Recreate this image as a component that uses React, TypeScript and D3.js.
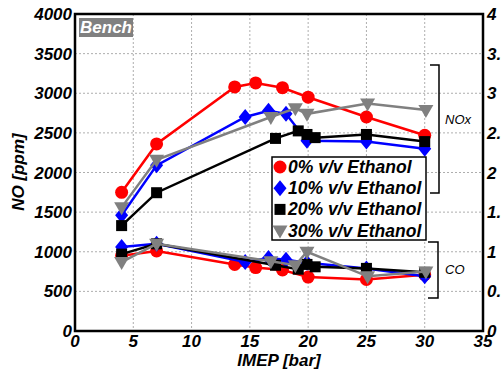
import React from "react";
import * as d3 from "d3";

const xTicks = [0, 5, 10, 15, 20, 25, 30, 35];
const yTicks = [0, 500, 1000, 1500, 2000, 2500, 3000, 3500, 4000];
const yRightTicks = ["0", "0.5", "1", "1.5", "2", "2.5", "3", "3.5", "4"];

const x0 = [4, 7, 13.7, 15.5, 17.8, 20, 25, 30];
const no0 = [1750, 2360, 3080, 3130, 3070, 2950, 2700, 2470];
const co0 = [0.95, 1.01, 0.84, 0.8, 0.77, 0.68, 0.65, 0.71];

const x10 = [4, 7, 14.6, 16.6, 18.1, 19.9, 25, 30];
const no10 = [1460, 2090, 2700, 2780, 2740, 2400, 2390, 2300];
const co10 = [1.06, 1.1, 0.87, 0.92, 0.9, 0.86, 0.79, 0.69];

const x20 = [4, 7, 17.2, 19.15, 19.9, 20.6, 25, 30];
const no20 = [1330, 1745, 2430, 2525, 2480, 2440, 2480, 2390];
const co20 = [0.97, 1.1, 0.83, 0.78, 0.84, 0.81, 0.79, 0.74];

const x30 = [4, 7, 16.8, 18.9, 19.9, 25.1, 30.1];
const no30 = [1560, 2160, 2700, 2810, 2740, 2870, 2790];
const co30 = [0.87, 1.1, 0.88, 0.83, 1.0, 0.69, 0.75];

const seriesNames = ["0% v/v Ethanol", "10% v/v Ethanol", "20% v/v Ethanol", "30% v/v Ethanol"];
const seriesColors = ["#ff0000", "#0000ff", "#000000", "#808080"];
const seriesShapes = ["circle", "diamond", "square", "triangle"];

const W = 501, H = 383;
const L = 75, R = 483, T = 14, B = 331;
const FONT = "'Liberation Sans', Arial, sans-serif";

function Marker({ shape, x, y, color }: { shape: string; x: number; y: number; color: string }) {
  if (shape === "circle") return <circle cx={x} cy={y} r={6.5} fill={color} />;
  if (shape === "square") return <rect x={x - 5.5} y={y - 5.5} width={11} height={11} fill={color} />;
  if (shape === "diamond")
    return <path d={`M${x},${y - 8} L${x + 6.5},${y} L${x},${y + 8} L${x - 6.5},${y} Z`} fill={color} />;
  return <path d={`M${x - 7.5},${y - 5} L${x + 7.5},${y - 5} L${x},${y + 8} Z`} fill={color} />;
}

export default function App() {
  const xs = d3.scaleLinear().domain([0, 35]).range([L, R]);
  const ys = d3.scaleLinear().domain([0, 4000]).range([B, T]);
  const yr = d3.scaleLinear().domain([0, 4]).range([B, T]);

  const series = [
    { x: x0, no: no0, co: co0 },
    { x: x10, no: no10, co: co10 },
    { x: x20, no: no20, co: co20 },
    { x: x30, no: no30, co: co30 },
  ];

  const lineNO = (xv: number[], yv: number[]) =>
    d3.line<number>().x((_, i) => xs(xv[i])).y((d) => ys(d))(yv) || "";
  const lineCO = (xv: number[], yv: number[]) =>
    d3.line<number>().x((_, i) => xs(xv[i])).y((d) => yr(d))(yv) || "";

  const tickStyle = { fontFamily: FONT, fontWeight: 700, fontStyle: "italic", fontSize: 17 } as const;

  return (
    <svg width={W} height={H} style={{ position: "fixed", left: 0, top: 0, background: "#fff" }}>
      <rect x={0} y={0} width={W} height={H} fill="#fff" />
      {xTicks.slice(1, -1).map((t) => (
        <line key={"gx" + t} x1={xs(t)} x2={xs(t)} y1={T} y2={B} stroke="#999" strokeWidth={0.8} strokeDasharray="2,2" />
      ))}
      {yTicks.slice(1, -1).map((t) => (
        <line key={"gy" + t} x1={L} x2={R} y1={ys(t)} y2={ys(t)} stroke="#999" strokeWidth={0.8} strokeDasharray="2,2" />
      ))}
      <rect x={L} y={T} width={R - L} height={B - T} fill="none" stroke="#000" strokeWidth={2.5} />

      <rect x={79} y={18} width={54} height={19} fill="#808080" />
      <text x={106} y={33} textAnchor="middle" fill="#fff" style={tickStyle}>Bench</text>

      {series.map((s, i) => (
        <g key={"s" + i}>
          <path d={lineNO(s.x, s.no)} fill="none" stroke={seriesColors[i]} strokeWidth={2.5} />
          <path d={lineCO(s.x, s.co)} fill="none" stroke={seriesColors[i]} strokeWidth={2.5} />
          {s.x.map((xv, j) => (
            <Marker key={"n" + j} shape={seriesShapes[i]} x={xs(xv)} y={ys(s.no[j])} color={seriesColors[i]} />
          ))}
          {s.x.map((xv, j) => (
            <Marker key={"c" + j} shape={seriesShapes[i]} x={xs(xv)} y={yr(s.co[j])} color={seriesColors[i]} />
          ))}
        </g>
      ))}

      <path d={`M430,65 L439,65 L439,193 L430,193`} fill="none" stroke="#000" strokeWidth={1.5} />
      <text x={445} y={124} style={{ fontFamily: FONT, fontStyle: "italic", fontSize: 13 }}>NOx</text>
      <path d={`M428,242 L438,242 L438,298 L428,298`} fill="none" stroke="#000" strokeWidth={1.5} />
      <text x={445} y={274} style={{ fontFamily: FONT, fontStyle: "italic", fontSize: 13 }}>CO</text>

      <rect x={272} y={157} width={154} height={83} fill="#fff" stroke="#000" strokeWidth={1.5} />
      {seriesNames.map((n, i) => {
        const cy = 167 + i * 21.2;
        return (
          <g key={"l" + i}>
            <Marker shape={seriesShapes[i]} x={280} y={cy} color={seriesColors[i]} />
            <text x={288} y={cy + 6} style={{ ...tickStyle, fontSize: 17.5 }}>{n}</text>
          </g>
        );
      })}

      {yTicks.map((t) => (
        <text key={"yl" + t} x={72} y={ys(t) + 6} textAnchor="end" style={tickStyle}>{t}</text>
      ))}
      {yRightTicks.map((t, i) => (
        <text key={"yr" + t} x={487} y={yr(i * 0.5) + 6} style={tickStyle}>{t}</text>
      ))}
      {xTicks.map((t) => (
        <text key={"xl" + t} x={xs(t)} y={347} textAnchor="middle" style={tickStyle}>{t}</text>
      ))}
      <text x={279} y={366} textAnchor="middle" style={tickStyle}>IMEP [bar]</text>
      <text transform={`translate(24,172) rotate(-90)`} textAnchor="middle" style={tickStyle}>NO [ppm]</text>
    </svg>
  );
}
